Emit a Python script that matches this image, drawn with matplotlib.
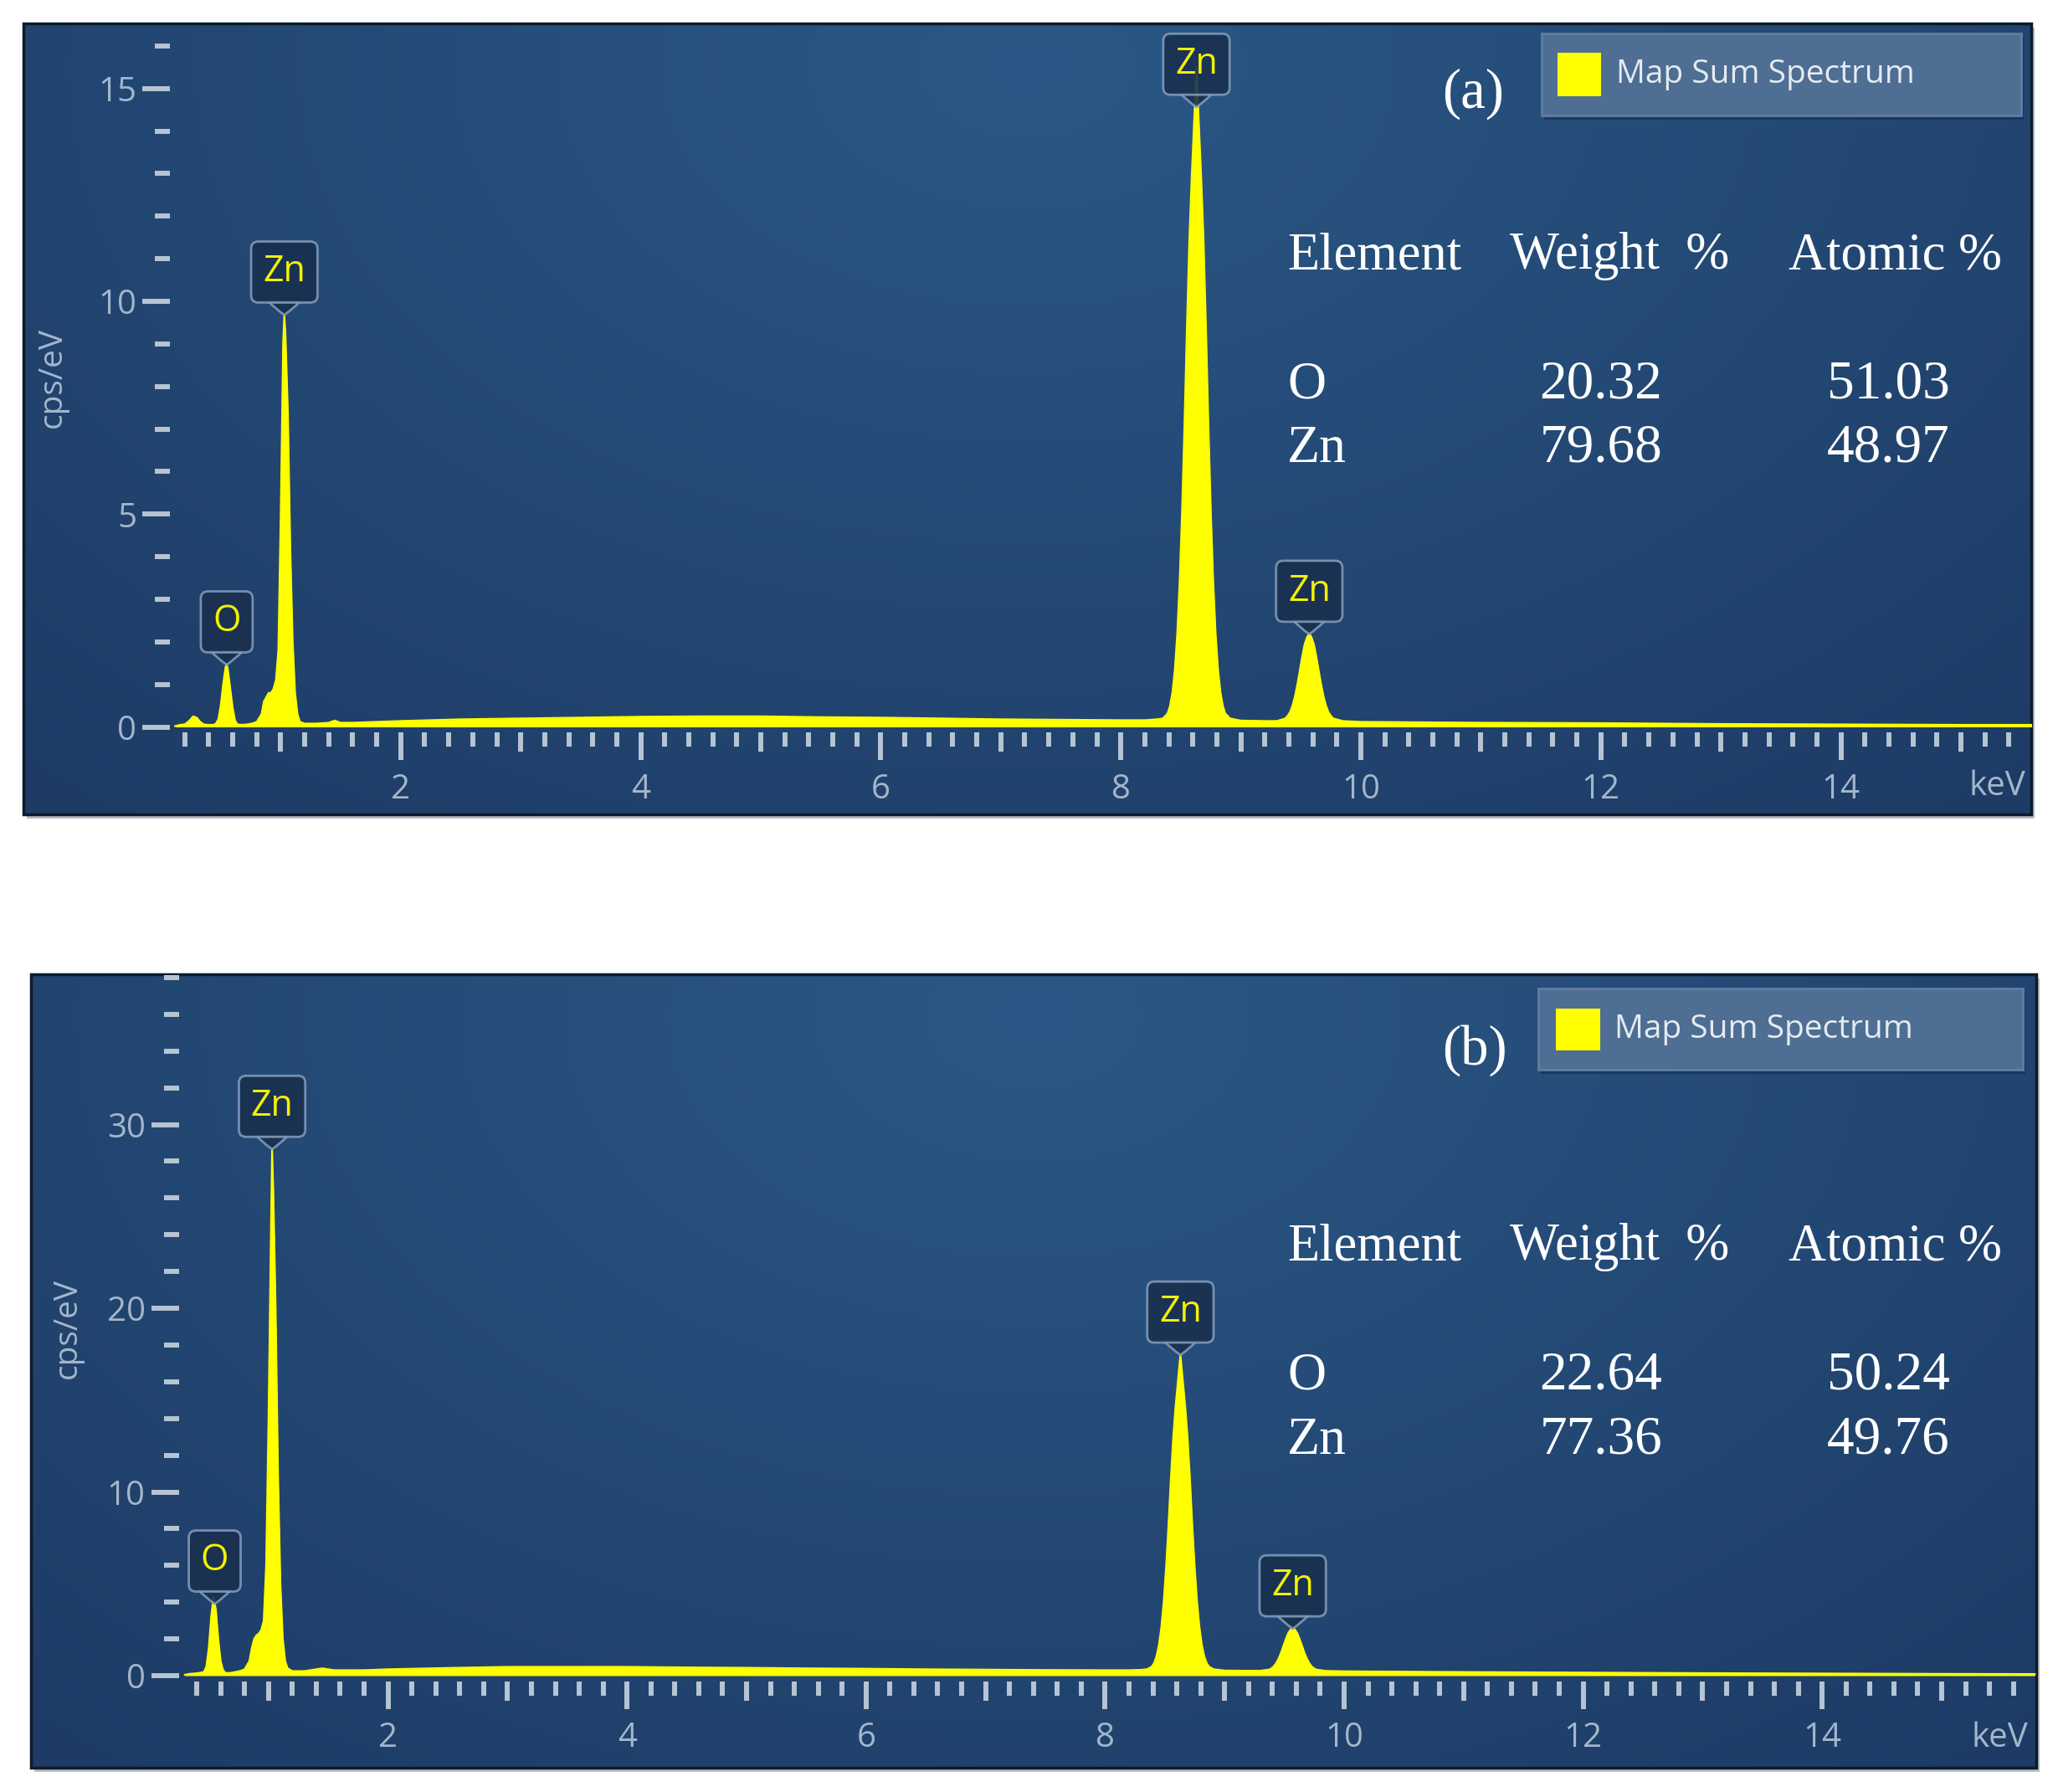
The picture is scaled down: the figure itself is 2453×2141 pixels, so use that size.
import numpy as np
import matplotlib
matplotlib.use("Agg")
import matplotlib.pyplot as plt
from matplotlib.patches import Rectangle

plt.rcParams['font.family'] = ['Open Sans', 'DejaVu Sans']

W, H, DPI = 2453, 2141, 100

# ---------------- data ----------------
a_energy = [0.12, 0.16, 0.20, 0.24, 0.27, 0.30, 0.33, 0.36, 0.40, 0.44, 0.46, 0.48, 0.50, 0.52,
            0.54, 0.55, 0.56, 0.58, 0.60, 0.62, 0.64, 0.68, 0.72, 0.76, 0.80, 0.84, 0.86, 0.88,
            0.90, 0.92, 0.94, 0.96, 0.98, 1.00, 1.02, 1.03, 1.04, 1.06, 1.08, 1.10, 1.12, 1.14,
            1.16, 1.20, 1.30, 1.40, 1.45, 1.50, 1.60, 1.80, 2.00, 2.50, 3.00, 3.50, 4.00, 4.50,
            5.00, 5.50, 6.00, 6.50, 7.00, 7.50, 8.00, 8.20, 8.30, 8.35, 8.39, 8.41, 8.43, 8.45,
            8.47, 8.49, 8.51, 8.53, 8.55, 8.57, 8.59, 8.61, 8.63, 8.65, 8.67, 8.69, 8.71, 8.73,
            8.75, 8.77, 8.79, 8.81, 8.83, 8.85, 8.87, 8.91, 9.00, 9.20, 9.30, 9.37, 9.39, 9.41,
            9.43, 9.45, 9.47, 9.49, 9.51, 9.53, 9.55, 9.57, 9.59, 9.61, 9.63, 9.65, 9.67, 9.69,
            9.71, 9.73, 9.75, 9.77, 9.85, 10.0, 10.5, 11.0, 12.0, 13.0, 14.0, 15.0, 15.59]
a_cps = [0.02, 0.05, 0.06, 0.15, 0.25, 0.22, 0.12, 0.06, 0.05, 0.05, 0.08, 0.18, 0.5, 1.0,
         1.4, 1.48, 1.35, 0.9, 0.45, 0.15, 0.06, 0.05, 0.06, 0.08, 0.12, 0.3, 0.6, 0.7,
         0.8, 0.8, 0.9, 1.1, 1.8, 5.0, 9.0, 9.7, 9.2, 7.4, 4.2, 2.0, 0.8, 0.3,
         0.12, 0.08, 0.08, 0.1, 0.15, 0.1, 0.1, 0.12, 0.14, 0.18, 0.2, 0.22, 0.24, 0.25,
         0.25, 0.23, 0.22, 0.2, 0.18, 0.17, 0.16, 0.16, 0.18, 0.2, 0.32, 0.5, 0.82, 1.36,
         2.2, 3.42, 5.07, 7.09, 9.35, 11.4, 12.9, 14.2, 15.5, 14.2, 12.9, 11.4, 9.35, 7.09,
         5.07, 3.42, 2.2, 1.36, 0.82, 0.5, 0.32, 0.2, 0.15, 0.14, 0.14, 0.2, 0.26, 0.35,
         0.5, 0.71, 0.99, 1.31, 1.64, 1.93, 2.1, 2.2, 2.1, 1.93, 1.64, 1.31, 0.99, 0.71,
         0.5, 0.35, 0.26, 0.2, 0.14, 0.12, 0.11, 0.1, 0.09, 0.07, 0.06, 0.05, 0.05]

b_energy = [0.30, 0.34, 0.38, 0.42, 0.46, 0.48, 0.50, 0.52, 0.54, 0.56, 0.58, 0.60, 0.62, 0.64,
            0.68, 0.72, 0.76, 0.80, 0.84, 0.86, 0.88, 0.90, 0.92, 0.94, 0.96, 0.98, 1.00, 1.02,
            1.03, 1.04, 1.06, 1.08, 1.10, 1.12, 1.14, 1.16, 1.20, 1.30, 1.45, 1.55, 1.80, 2.00,
            2.50, 3.00, 3.50, 4.00, 4.50, 5.00, 5.50, 6.00, 6.50, 7.00, 7.50, 8.00, 8.20, 8.30,
            8.35, 8.39, 8.41, 8.43, 8.45, 8.47, 8.49, 8.51, 8.53, 8.55, 8.57, 8.59, 8.61, 8.63,
            8.65, 8.67, 8.69, 8.71, 8.73, 8.75, 8.77, 8.79, 8.81, 8.83, 8.85, 8.87, 8.91, 9.00,
            9.20, 9.30, 9.37, 9.39, 9.41, 9.43, 9.45, 9.47, 9.49, 9.51, 9.53, 9.55, 9.57, 9.59,
            9.61, 9.63, 9.65, 9.67, 9.69, 9.71, 9.73, 9.75, 9.77, 9.85, 10.0, 10.5, 11.0, 12.0,
            13.0, 14.0, 15.0, 15.78]
b_cps = [0.05, 0.1, 0.12, 0.15, 0.2, 0.5, 1.5, 3.2, 4.3, 3.6, 2.0, 0.8, 0.3, 0.15,
         0.15, 0.2, 0.25, 0.35, 0.8, 1.5, 2.0, 2.2, 2.3, 2.5, 3.0, 6.0, 14.0, 24.0,
         28.7, 26.5, 20.0, 11.0, 5.0, 2.0, 0.8, 0.4, 0.25, 0.25, 0.4, 0.3, 0.3, 0.35,
         0.42, 0.48, 0.48, 0.48, 0.45, 0.43, 0.4, 0.38, 0.35, 0.33, 0.31, 0.3, 0.3, 0.32,
         0.35, 0.49, 0.69, 1.06, 1.67, 2.62, 4.02, 5.89, 8.18, 10.74, 13.0, 14.7, 16.1, 17.5,
         16.1, 14.7, 13.0, 10.74, 8.18, 5.89, 4.02, 2.62, 1.67, 1.06, 0.69, 0.49, 0.35, 0.28,
         0.27, 0.27, 0.33, 0.39, 0.5, 0.67, 0.91, 1.22, 1.58, 1.96, 2.29, 2.5, 2.6, 2.5,
         2.29, 1.96, 1.58, 1.22, 0.91, 0.67, 0.5, 0.39, 0.33, 0.26, 0.24, 0.22, 0.2, 0.17,
         0.14, 0.12, 0.1, 0.09]

peak_energy = [0.55, 1.03, 8.63, 9.57]
peak_element = ['O', 'Zn', 'Zn', 'Zn']

x_major = [2, 4, 6, 8, 10, 12, 14]
x_mid = [1, 3, 5, 7, 9, 11, 13, 15]
a_y_major = [0, 5, 10, 15]
b_y_major = [0, 10, 20, 30]

legend_label = 'Map Sum Spectrum'
table_header = ['Element', 'Weight  %', 'Atomic %']
table_elements = ['O', 'Zn']
a_weight = ['20.32', '79.68']
a_atomic = ['51.03', '48.97']
b_weight = ['22.64', '77.36']
b_atomic = ['50.24', '49.76']

# ---------------- style ----------------
YEL = '#ffff00'
TICK = '#b6c4d4'
LABEL = '#a4b6cb'
SERIF = ['Liberation Serif', 'DejaVu Serif']

fig = plt.figure(figsize=(W / DPI, H / DPI), dpi=DPI)
fig.patch.set_facecolor('white')


def rect_frac(l, t, r, b):
    return [l / W, 1 - b / H, (r - l) / W, (b - t) / H]


def fx(px):
    return px / W


def fy(py):
    return 1 - py / H


# background gradient of the panels
gu, gv = np.meshgrid(np.linspace(0, 1, 400), np.linspace(0, 1, 160))
gd = np.clip(np.sqrt(((gu - 0.5) / 0.75) ** 2 + ((gv - 0.05) / 1.25) ** 2), 0, 1)
c_in = np.array(matplotlib.colors.to_rgb('#2b5886'))
c_out = np.array(matplotlib.colors.to_rgb('#1d3b65'))
gradient = c_in[None, None, :] * (1 - gd[..., None]) + c_out[None, None, :] * gd[..., None]


def draw_panel(energy, cps, y_major, y_minor_step, weight, atomic, tag, g):
    L, T, R, B = g['frame']
    fig.add_artist(Rectangle((fx(L + 4), fy(B + 5)), (R - L) / W, (B - T) / H,
                             transform=fig.transFigure, fc='#8f959d', ec='none',
                             alpha=0.6, zorder=0))
    fax = fig.add_axes(rect_frac(L, T, R, B), zorder=1)
    fax.imshow(gradient, extent=[0, 1, 0, 1], aspect='auto', origin='upper',
               interpolation='bicubic')
    fax.set_xlim(0, 1)
    fax.set_ylim(0, 1)
    fax.axis('off')
    fax.add_patch(Rectangle((0, 0), 1, 1, transform=fax.transAxes, fill=False,
                            ec='#0c1a2b', lw=2.5, clip_on=False))

    x0, kx, y0, ky = g['x0'], g['kx'], g['y0'], g['ky']
    xmax, ymax = g['xmax'], g['ymax']
    dax = fig.add_axes(rect_frac(x0, y0 - ymax * ky, x0 + xmax * kx, y0), zorder=2)
    dax.patch.set_visible(False)
    dax.set_xlim(0, xmax)
    dax.set_ylim(0, ymax)
    dax.fill_between(energy, 0, cps, color=YEL, lw=0, zorder=2)
    dax.plot(energy, cps, color=YEL, lw=1.5, zorder=2)

    for s in dax.spines.values():
        s.set_visible(False)
    dax.spines['left'].set_position(('data', g['spine']))
    dax.spines['bottom'].set_position(('outward', 4.7))

    minor_x = [round(k * 0.2, 1) for k in range(1, 80)
               if k % 5 != 0 and g['spine'] < k * 0.2 < xmax]
    dax.set_xticks(x_major, labels=[str(v) for v in x_major])
    dax.set_xticks(minor_x, minor=True)
    dax.tick_params(axis='x', which='major', length=23.8, width=4.3, color=TICK,
                    direction='out', pad=11, labelsize=29, labelcolor=LABEL)
    dax.tick_params(axis='x', which='minor', length=12.2, width=4.3, color=TICK,
                    direction='out')
    minor_y = [v for v in np.arange(y_minor_step, ymax, y_minor_step)
               if v % (y_major[1]) != 0]
    dax.set_yticks(y_major, labels=[str(v) for v in y_major])
    dax.set_yticks(minor_y, minor=True)
    dax.tick_params(axis='y', which='major', length=23.8, width=4.3, color=TICK,
                    direction='out', pad=5, labelsize=29, labelcolor=LABEL)
    dax.tick_params(axis='y', which='minor', length=13, width=4.3, color=TICK,
                    direction='out')

    tw = dax.twiny()
    tw.set_xlim(0, xmax)
    tw.patch.set_visible(False)
    for s in tw.spines.values():
        s.set_visible(False)
    tw.xaxis.set_ticks_position('bottom')
    tw.spines['bottom'].set_position(('outward', 4.7))
    tw.set_xticks([v for v in x_mid if v < xmax])
    tw.tick_params(axis='x', which='major', length=16.6, width=4.3, color=TICK,
                   direction='out', labelbottom=False, labeltop=False)

    # peak labels
    frame_top_data = (y0 - T) / ky
    box_fc = (0.10, 0.19, 0.31, 0.9)
    box_ec = (0.52, 0.62, 0.74, 0.85)
    for E, el in zip(peak_energy, peak_element):
        h = float(np.interp(E, energy, cps))
        base = min(h + 39 / ky, frame_top_data - 60 / ky)
        box_bottom = base - 25 / ky
        dax.annotate('', xy=(E, box_bottom - 15 / ky), xytext=(E, box_bottom + 1 / ky),
                     arrowprops=dict(arrowstyle='wedge,tail_width=0.9,shrink_factor=0.55',
                                     fc=box_fc, ec=box_ec, lw=2, shrinkA=0, shrinkB=0,
                                     mutation_scale=30),
                     annotation_clip=False, zorder=4)
        dax.text(E, base, el, ha='center', va='baseline', fontsize=31, color='#f2f200',
                 zorder=5, clip_on=False,
                 bbox=dict(boxstyle='round,pad=0.33,rounding_size=0.2',
                           fc=box_fc, ec=box_ec, lw=2))

    # axis labels
    fig.text(fx(g['ylabel'][0]), fy(g['ylabel'][1]), 'cps/eV', rotation=90, ha='center',
             va='center', fontsize=28, color=LABEL, zorder=6)
    fig.text(fx(g['kev'][0]), fy(g['kev'][1]), 'keV', ha='center', va='center',
             fontsize=29, color=LABEL, zorder=6)

    # legend
    lL, lT, lR, lB = g['legend']
    fig.add_artist(Rectangle((fx(lL + 3), fy(lB + 5)), (lR - lL) / W, (lB - lT) / H,
                             transform=fig.transFigure, fc='#15294a', ec='none',
                             alpha=0.55, zorder=6))
    fig.add_artist(Rectangle((fx(lL), fy(lB)), (lR - lL) / W, (lB - lT) / H,
                             transform=fig.transFigure, fc='#4f6e93', ec='#5f7ea2',
                             lw=2, zorder=7))
    sL, sT, sR, sB = g['swatch']
    fig.add_artist(Rectangle((fx(sL), fy(sB)), (sR - sL) / W, (sB - sT) / H,
                             transform=fig.transFigure, fc=YEL, ec='none', zorder=8))
    fig.text(fx(g['legend_text'][0]), fy(g['legend_text'][1]), legend_label, ha='left',
             va='center', fontsize=28, color='#e4ebf2', zorder=8)

    # panel tag
    fig.text(fx(g['tag'][0]), fy(g['tag'][1]), tag, ha='center', va='center',
             fontsize=48, color='white', family=SERIF, zorder=8)

    # composition table
    tx = g['table_x']
    tb = g['table_base']
    for x, txt in zip(tx, table_header):
        fig.text(fx(x), fy(tb[0]), txt, ha='left', va='baseline', fontsize=45,
                 color='white', family=SERIF, zorder=8)
    for i, el in enumerate(table_elements):
        fig.text(fx(tx[0]), fy(tb[i + 1]), el, ha='left', va='baseline', fontsize=46,
                 color='white', family=SERIF, zorder=8)
        fig.text(fx(g['value_cx'][0]), fy(tb[i + 1]), weight[i], ha='center',
                 va='baseline', fontsize=47, color='white', family=SERIF, zorder=8)
        fig.text(fx(g['value_cx'][1]), fy(tb[i + 1]), atomic[i], ha='center',
                 va='baseline', fontsize=47, color='white', family=SERIF, zorder=8)


geom_a = dict(frame=(28, 28, 2427, 973), x0=192, kx=143.4, y0=868.5, ky=50.85,
              xmax=15.59, ymax=16.4, spine=0.077,
              legend=(1842, 40, 2415, 138), swatch=(1861, 63, 1913, 115),
              legend_text=(1931, 89), tag=(1760, 112), ylabel=(63, 451), kev=(2386, 940),
              table_x=(1538, 1804, 2137), value_cx=(1913, 2256),
              table_base=(321, 475.6, 552))
geom_b = dict(frame=(37, 1164, 2433, 2112), x0=178, kx=142.8, y0=2002, ky=21.95,
              xmax=15.79, ymax=38.15, spine=0.25,
              legend=(1838, 1181, 2417, 1278), swatch=(1859, 1205, 1912, 1255),
              legend_text=(1929, 1230), tag=(1762, 1255), ylabel=(81, 1587),
              kev=(2389, 2077),
              table_x=(1538, 1804, 2137), value_cx=(1913, 2256),
              table_base=(1505, 1660, 1736.6))

draw_panel(a_energy, a_cps, a_y_major, 1, a_weight, a_atomic, '(a)', geom_a)
draw_panel(b_energy, b_cps, b_y_major, 2, b_weight, b_atomic, '(b)', geom_b)

fig.savefig('out.png', dpi=DPI, facecolor='white')
